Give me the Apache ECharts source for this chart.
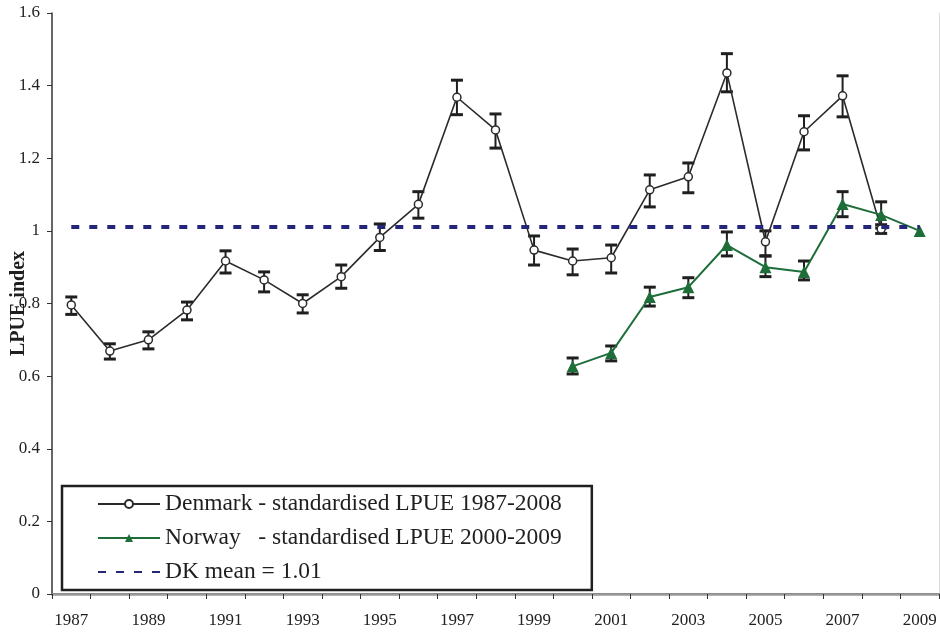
<!DOCTYPE html>
<html>
<head>
<meta charset="utf-8">
<script src="https://cdn.jsdelivr.net/npm/echarts@6/dist/echarts.min.js"></script>
<style>html,body{margin:0;padding:0;background:#fff}#c{width:940px;height:632px}</style>
</head>
<body>
<div id="c"></div>
<script>
const years = ['1987','1988','1989','1990','1991','1992','1993','1994','1995','1996','1997','1998','1999','2000','2001','2002','2003','2004','2005','2006','2007','2008','2009'];
const dkValues = [0.796,0.669,0.70,0.782,0.917,0.865,0.80,0.874,0.982,1.073,1.368,1.278,0.947,0.917,0.926,1.113,1.149,1.435,0.97,1.273,1.372,1.005,null];
const dkLow  = [0.770,0.647,0.675,0.755,0.884,0.832,0.774,0.842,0.946,1.035,1.320,1.228,0.906,0.879,0.884,1.066,1.105,1.383,0.931,1.223,1.314,0.993,null];
const dkHigh = [0.818,0.689,0.722,0.804,0.945,0.887,0.824,0.906,1.019,1.108,1.415,1.322,0.986,0.950,0.961,1.154,1.187,1.488,1.000,1.317,1.427,1.017,null];
const noValues = [null,null,null,null,null,null,null,null,null,null,null,null,null,0.627,0.664,0.818,0.845,0.961,0.90,0.887,1.074,1.044,1.0];
const noLow  = [null,null,null,null,null,null,null,null,null,null,null,null,null,0.606,0.642,0.793,0.816,0.931,0.874,0.865,1.039,1.008,null];
const noHigh = [null,null,null,null,null,null,null,null,null,null,null,null,null,0.650,0.683,0.845,0.871,0.997,0.931,0.917,1.108,1.080,null];
const dkMean = 1.01;
const yTicks = {min: 0, max: 1.6, interval: 0.2};
const names = ['Denmark - standardised LPUE 1987-2008', 'Norway   - standardised LPUE 2000-2009', 'DK mean = 1.01'];

function errData(low, high) {
  const out = [];
  for (let i = 0; i < years.length; i++) {
    if (low[i] != null && high[i] != null) out.push([i, low[i], high[i]]);
  }
  return out;
}
function renderErr(params, api) {
  const x = api.value(0), lo = api.value(1), hi = api.value(2);
  const a = api.coord([x, hi]), b = api.coord([x, lo]);
  const hw = 6;
  const st = {stroke: '#1f1f1f', lineWidth: 2};
  const cap = {stroke: '#1f1f1f', lineWidth: 3};
  return {type: 'group', children: [
    {type: 'line', shape: {x1: a[0], y1: a[1], x2: b[0], y2: b[1]}, style: st},
    {type: 'line', shape: {x1: a[0] - hw, y1: a[1], x2: a[0] + hw, y2: a[1]}, style: cap},
    {type: 'line', shape: {x1: b[0] - hw, y1: b[1], x2: b[0] + hw, y2: b[1]}, style: cap}
  ]};
}
const serif = '"Liberation Serif", "Times New Roman", serif';
const chart = echarts.init(document.getElementById('c'), null, {renderer: 'canvas'});
chart.setOption({
  animation: false,
  backgroundColor: '#fff',
  grid: {left: 52, right: 1, top: 13, bottom: 38, containLabel: false, outerBoundsMode: 'none'},
  legend: {
    data: [
      {name: names[0]},
      {name: names[1]},
      {name: names[2], itemStyle: {opacity: 0}}
    ],
    orient: 'vertical',
    left: 62, top: 486,
    padding: [6, 30, 6, 35],
    itemWidth: 62, itemHeight: 10, itemGap: 10,
    borderColor: '#1f1f1f', borderWidth: 2.5,
    backgroundColor: '#fff',
    textStyle: {fontFamily: serif, fontSize: 23.5, color: '#1f1f1f', lineHeight: 24}
  },
  xAxis: [{
    type: 'category', data: years, boundaryGap: true,
    axisLine: {lineStyle: {color: '#333', width: 1.5}},
    axisTick: {show: true, interval: 0, length: 5, lineStyle: {color: '#333'}},
    axisLabel: {interval: 1, margin: 18, fontFamily: serif, fontSize: 17, color: '#222'},
    splitLine: {show: false}
  }, {
    type: 'category', data: years, position: 'top', boundaryGap: true,
    axisLine: {lineStyle: {color: '#9a9a9a', width: 2.5}},
    axisTick: {show: false}, axisLabel: {show: false}, splitLine: {show: false}
  }],
  yAxis: [{
    type: 'value', min: yTicks.min, max: yTicks.max, interval: yTicks.interval,
    name: 'LPUE index', nameLocation: 'middle', nameGap: 23, nameMoveOverlap: false,
    nameTextStyle: {fontFamily: serif, fontSize: 20, fontWeight: 'bold', color: '#1f1f1f'},
    axisLine: {show: true, lineStyle: {color: '#333', width: 1.5}},
    axisTick: {show: true, length: 5, lineStyle: {color: '#333'}},
    axisLabel: {margin: 12, fontFamily: serif, fontSize: 17, color: '#222'},
    splitLine: {show: false}
  }, {
    type: 'value', position: 'right', min: yTicks.min, max: yTicks.max, interval: yTicks.interval,
    axisLine: {show: true, lineStyle: {color: '#dcdcdc', width: 1}},
    axisTick: {show: false}, axisLabel: {show: false}, splitLine: {show: false}
  }],
  series: [
    {
      type: 'custom', name: 'dkErr', renderItem: renderErr, data: errData(dkLow, dkHigh), z: 1,
      encode: {x: 0, y: [1, 2]}
    },
    {
      type: 'custom', name: 'noErr', renderItem: renderErr, data: errData(noLow, noHigh), z: 1,
      encode: {x: 0, y: [1, 2]}
    },
    {
      type: 'line', name: names[2], data: [], z: 2, symbol: 'none',
      lineStyle: {color: '#25257a', width: 4, type: [8, 10]},
      itemStyle: {color: '#25257a'},
      markLine: {
        silent: true, symbol: 'none', label: {show: false},
        lineStyle: {color: '#25257a', width: 4, type: [8, 10]},
        data: [[{coord: [years[0], dkMean]}, {coord: [years[years.length - 1], dkMean]}]]
      }
    },
    {
      type: 'line', name: names[0], data: dkValues, z: 3,
      symbol: 'circle', symbolSize: 8,
      lineStyle: {color: '#2b2b2b', width: 1.6},
      itemStyle: {color: '#fff', borderColor: '#2b2b2b', borderWidth: 1.5}
    },
    {
      type: 'line', name: names[1], data: noValues, z: 4,
      symbol: 'triangle', symbolSize: 12,
      lineStyle: {color: '#1e6e3a', width: 2},
      itemStyle: {color: '#1e6e3a'}
    }
  ]
});
</script>
</body>
</html>
